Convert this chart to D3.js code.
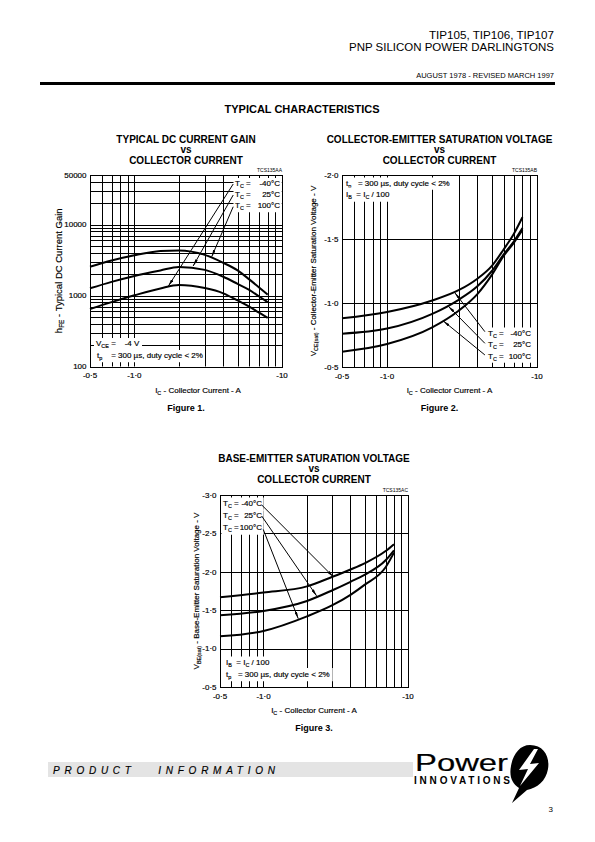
<!DOCTYPE html>
<html>
<head>
<meta charset="utf-8">
<script src="https://cdn.jsdelivr.net/npm/d3@7"></script>
<style>
  html,body{margin:0;padding:0;background:#fff;}
  svg{display:block;}
  text{font-family:"Liberation Sans",Arial,Helvetica,sans-serif;fill:#000;white-space:pre;}
  text.heavy{stroke:#000;stroke-width:0.17px;}
</style>
</head>
<body>
<svg id="page" width="595" height="842" viewBox="0 0 595 842"></svg>
<script>
// ================= DATA =================
// Collector current axis (A) shared by all three figures
const xTickValues = [-0.5, -1, -10];
const xTickLabels = ["-0·5", "-1·0", "-10"];
const xGridValues = [-0.6, -0.7, -0.8, -0.9, -1, -2, -3, -4, -5, -6, -7, -8, -9];
const tempLabels = ["-40°C", "25°C", "100°C"];

// Figure 1 : hFE vs IC
const fig1Current = [-0.5, -0.7, -1, -1.5, -2, -3, -4, -5, -6, -7, -8];
const fig1Hfe100 = [2550, 3110, 3690, 4240, 4330, 3740, 2890, 2260, 1690, 1300, 1030];
const fig1Hfe25  = [1265, 1560, 1890, 2260, 2530, 2300, 1840, 1460, 1200, 970, 805];
const fig1HfeM40 = [646, 808, 1007, 1260, 1405, 1274, 1075, 852, 698, 573, 485];
const fig1YTicks = [100, 1000, 10000, 50000];
const fig1YTickLabels = ["100", "1000", "10000", "50000"];
const fig1YGrid = [200,300,400,500,600,700,800,900,1000,2000,3000,4000,5000,6000,7000,8000,9000,10000,20000,30000,40000];
const fig1Arrows = [   // [label end point, arrow tip] for -40, 25, 100 °C
  [[-4.67, 37300], [-1.70, 1362]],
  [[-4.67, 26100], [-2.50, 2608]],
  [[-4.67, 17860], [-3.34, 3527]]
];

// Figure 2 : VCE(sat) vs IC
const fig2Current = [-0.5, -1, -2, -3, -4, -5, -6, -7, -8];
const fig2VceM40 = [-0.88, -0.93, -1.02, -1.10, -1.19, -1.29, -1.42, -1.54, -1.67];
const fig2Vce25  = [-0.76, -0.80, -0.915, -1.025, -1.13, -1.25, -1.38, -1.48, -1.585];
const fig2Vce100 = [-0.62, -0.68, -0.81, -0.94, -1.07, -1.22, -1.37, -1.47, -1.57];
const fig2YTicks = [-2.0, -1.5, -1.0, -0.5];
const fig2YTickLabels = ["-2·0", "-1·5", "-1·0", "-0·5"];
const fig2YGrid = [-1.5, -1.0];
const fig2Arrows = [
  [[-4.49, -0.776], [-2.83, -1.08]],
  [[-4.49, -0.685], [-2.56, -0.975]],
  [[-4.49, -0.594], [-2.37, -0.86]]
];

// Figure 3 : VBE(sat) vs IC
const fig3Current = [-0.5, -1, -2, -3, -4, -5, -7, -8];
const fig3VbeM40 = [-1.67, -1.73, -1.81, -1.935, -2.03, -2.11, -2.27, -2.36];
const fig3Vbe25  = [-1.435, -1.49, -1.62, -1.76, -1.87, -1.96, -2.15, -2.28];
const fig3Vbe100 = [-1.16, -1.23, -1.42, -1.565, -1.70, -1.83, -2.06, -2.25];
const fig3YTicks = [-3.0, -2.5, -2.0, -1.5, -1.0, -0.5];
const fig3YTickLabels = ["-3·0", "-2·5", "-2·0", "-1·5", "-1·0", "-0·5"];
const fig3YGrid = [-2.5, -2.0, -1.5, -1.0];
const fig3Arrows = [
  [[-0.972, -2.87], [-3.04, -1.935]],
  [[-0.972, -2.726], [-2.33, -1.687]],
  [[-0.996, -2.552], [-1.74, -1.39]]
];

// ================= DRAWING =================
const svg = d3.select("#page");
svg.append("rect").attr("width", 595).attr("height", 842).attr("fill", "#fff");

const defs = svg.append("defs");
defs.append("marker").attr("id", "ah")
  .attr("viewBox", "0 0 10 4").attr("refX", 10).attr("refY", 2)
  .attr("markerWidth", 7).attr("markerHeight", 2.8)
  .attr("markerUnits", "userSpaceOnUse").attr("orient", "auto")
  .append("path").attr("d", "M0,0L10,2L0,4Z").attr("fill", "#000");

// text with optional subscripts. parts: [string, isSub]
function richText(parent, x, y, parts, o = {}) {
  const size = o.size || 8;
  const t = parent.append("text").attr("x", x).attr("y", y)
    .attr("class", o.weight === "bold" ? null : "heavy")
    .attr("font-size", size)
    .attr("text-anchor", o.anchor || "start")
    .attr("font-weight", o.weight || "normal");
  if (o.transform) t.attr("transform", o.transform);
  let shifted = false;
  parts.forEach(p => {
    const [s, sub] = typeof p === "string" ? [p, false] : p;
    const ts = t.append("tspan").text(s);
    if (sub) {
      ts.attr("font-size", size * 0.68);
      if (!shifted) { ts.attr("dy", size * 0.28); shifted = true; }
    } else if (shifted) { ts.attr("dy", -size * 0.28); shifted = false; }
  });
  return t;
}
// white background behind one or more text nodes (union of their boxes)
function whiteBox(parent, sels, padX = 1, padY = 0.5) {
  const boxes = sels.map(s => s.node().getBBox());
  const x0 = d3.min(boxes, b => b.x), y0 = d3.min(boxes, b => b.y);
  const x1 = d3.max(boxes, b => b.x + b.width), y1 = d3.max(boxes, b => b.y + b.height);
  parent.insert("rect", () => sels[0].node())
    .attr("x", x0 - padX).attr("y", y0 - padY)
    .attr("width", x1 - x0 + 2 * padX).attr("height", y1 - y0 + 2 * padY)
    .attr("fill", "#fff");
}
const snap = v => Math.round(v) + 0.5;

function drawFigure(o) {
  const g = svg.append("g");
  const x = d3.scaleLog().domain([-0.5, -10]).range([o.left, o.right]);
  const y = o.y;
  const gridL = g.append("g");
  gridL.selectAll("line.v").data(xGridValues).join("line").attr("class", "v")
    .attr("x1", d => snap(x(d))).attr("x2", d => snap(x(d)))
    .attr("y1", o.top).attr("y2", o.bottom)
    .attr("stroke", "#000").attr("stroke-width", 1);
  gridL.selectAll("line.h").data(o.yGrid).join("line").attr("class", "h")
    .attr("x1", o.left).attr("x2", o.right)
    .attr("y1", d => snap(y(d))).attr("y2", d => snap(y(d)))
    .attr("stroke", "#000").attr("stroke-width", 1);

  const curveL = g.append("g");
  const line = d3.line().x(d => x(d[0])).y(d => y(d[1])).curve(d3.curveMonotoneX);
  o.series.forEach(vals => {
    curveL.append("path").datum(o.current.map((c, i) => [c, vals[i]]))
      .attr("d", line).attr("fill", "none").attr("stroke", "#000").attr("stroke-width", 2);
  });

  const labelL = g.append("g");
  const arrowL = g.append("g");
  o.arrows.forEach(([a, b]) => {
    arrowL.append("line")
      .attr("x1", x(a[0])).attr("y1", y(a[1])).attr("x2", x(b[0])).attr("y2", y(b[1]))
      .attr("stroke", "#000").attr("stroke-width", 1).attr("marker-end", "url(#ah)");
  });

  // frame
  g.append("rect").attr("x", snap(o.left)).attr("y", snap(o.top))
    .attr("width", Math.round(o.right) - Math.round(o.left))
    .attr("height", Math.round(o.bottom) - Math.round(o.top))
    .attr("fill", "none").attr("stroke", "#000").attr("stroke-width", 1);

  // tick labels
  const axL = g.append("g");
  axL.selectAll("text.xt").data(xTickValues).join("text").attr("class", "xt heavy")
    .attr("x", d => x(d)).attr("y", o.bottom + 11.5).attr("text-anchor", "middle")
    .attr("font-size", 8).text((d, i) => xTickLabels[i]);
  axL.selectAll("text.yt").data(o.yTicks).join("text").attr("class", "yt heavy")
    .attr("x", o.left - 3.5).attr("y", d => y(d) + 2.8).attr("text-anchor", "end")
    .attr("font-size", 8).text((d, i) => o.yTickLabels[i]);
  axL.append("text").attr("x", o.right).attr("y", o.top - 3.5).attr("text-anchor", "end")
    .attr("font-size", 5).text(o.code);

  const cx = (o.left + o.right) / 2;
  richText(axL, cx + o.xTitleShift, o.bottom + 26, [["I"], ["C", true], [" - Collector Current - A"]], { anchor: "middle", size: 8 });
  axL.append("text").attr("x", cx).attr("y", o.bottom + 44).attr("text-anchor", "middle")
    .attr("font-size", 9).attr("font-weight", "bold").text(o.figLabel);
  richText(axL, 0, 0, o.yTitle, { anchor: "middle", size: o.yTitleSize,
    transform: `translate(${o.yTitleX},${(o.top + o.bottom) / 2}) rotate(-90)` });

  // titles
  o.title.forEach((s, i) => {
    axL.append("text").attr("x", cx).attr("y", o.titleY + [0, 9.5, 21][i])
      .attr("text-anchor", "middle").attr("font-size", 10).attr("font-weight", "bold").text(s);
  });
  return { x, y, labelL };
}

// temperature legend rows ("T_C =" + right-aligned value) on a white box
function tempLegend(layer, xStart, xEnd, y0, step, pad) {
  tempLabels.forEach((lab, i) => {
    const yy = y0 + i * step;
    const t1 = richText(layer, xStart, yy, [["T"], ["C", true], [" ="]], { size: 8 });
    const t2 = layer.append("text").attr("class", "heavy").attr("x", xEnd).attr("y", yy)
      .attr("text-anchor", "end").attr("font-size", 8).text(lab);
    whiteBox(layer, [t1, t2], pad[0], pad[1]);
  });
}

// -------- header --------
svg.append("text").attr("x", 554).attr("y", 38.5).attr("text-anchor", "end").attr("font-size", 11.5)
  .attr("textLength", 125).attr("lengthAdjust", "spacingAndGlyphs")
  .text("TIP105, TIP106, TIP107");
svg.append("text").attr("x", 554).attr("y", 51).attr("text-anchor", "end").attr("font-size", 11.5)
  .attr("textLength", 205).attr("lengthAdjust", "spacingAndGlyphs")
  .text("PNP SILICON POWER DARLINGTONS");
svg.append("text").attr("x", 554).attr("y", 78).attr("text-anchor", "end").attr("font-size", 7.5)
  .text("AUGUST 1978 - REVISED MARCH 1997");
svg.append("rect").attr("x", 40).attr("y", 82).attr("width", 515).attr("height", 3).attr("fill", "#000");
svg.append("text").attr("x", 302).attr("y", 113).attr("text-anchor", "middle").attr("font-size", 11)
  .attr("font-weight", "bold").text("TYPICAL CHARACTERISTICS");

// -------- Figure 1 --------
const f1 = drawFigure({
  left: 90, right: 282, top: 175, bottom: 366.5,
  y: d3.scaleLog().domain([100, 50000]).range([366.5, 175]),
  yGrid: fig1YGrid, yTicks: fig1YTicks, yTickLabels: fig1YTickLabels,
  current: fig1Current, series: [fig1Hfe100, fig1Hfe25, fig1HfeM40],
  arrows: fig1Arrows, code: "TCS135AA", figLabel: "Figure 1.",
  title: ["TYPICAL DC CURRENT GAIN", "vs", "COLLECTOR CURRENT"], titleY: 143,
  yTitle: [["h"], ["FE", true], [" - Typical DC Current Gain"]], yTitleX: 61.5, yTitleSize: 9.5,
  xTitleShift: 12
});
tempLegend(f1.labelL, 235, 280, 186, 11, [1.5, 1]);
{
  const t1 = richText(f1.labelL, 96, 346, [["V"], ["CE", true], [" =    -4 V"]], { size: 8 });
  whiteBox(f1.labelL, [t1], 2, 1);
  const t2 = richText(f1.labelL, 97, 358, [["t"], ["p", true], ["    = 300 µs, duty cycle < 2%"]], { size: 8 });
  whiteBox(f1.labelL, [t2], 2, 1);
}

// -------- Figure 2 --------
const f2 = drawFigure({
  left: 342, right: 537, top: 175, bottom: 367,
  y: d3.scaleLinear().domain([-0.5, -2.0]).range([367, 175]),
  yGrid: fig2YGrid, yTicks: fig2YTicks, yTickLabels: fig2YTickLabels,
  current: fig2Current, series: [fig2VceM40, fig2Vce25, fig2Vce100],
  arrows: fig2Arrows, code: "TCS135AB", figLabel: "Figure 2.",
  title: ["COLLECTOR-EMITTER SATURATION VOLTAGE", "vs", "COLLECTOR CURRENT"], titleY: 143,
  yTitle: [["V"], ["CE(sat)", true], [" - Collector-Emitter Saturation Voltage - V"]], yTitleX: 316, yTitleSize: 8,
  xTitleShift: 10
});
{
  const t1 = richText(f2.labelL, 346, 185.5, [["t"], ["p", true], ["   = 300 µs, duty cycle < 2%"]], { size: 8 });
  whiteBox(f2.labelL, [t1], 3, 1);
  const t2 = richText(f2.labelL, 346, 196.5, [["I"], ["B", true], ["  = I"], ["C", true], [" / 100"]], { size: 8 });
  whiteBox(f2.labelL, [t2], 3, 2);
}
tempLegend(f2.labelL, 488, 531, 335.5, 11.5, [1.5, 1]);

// -------- Figure 3 --------
const f3 = drawFigure({
  left: 220, right: 408, top: 495, bottom: 687,
  y: d3.scaleLinear().domain([-0.5, -3.0]).range([687, 495]),
  yGrid: fig3YGrid, yTicks: fig3YTicks, yTickLabels: fig3YTickLabels,
  current: fig3Current, series: [fig3VbeM40, fig3Vbe25, fig3Vbe100],
  arrows: fig3Arrows, code: "TCS135AC", figLabel: "Figure 3.",
  title: ["BASE-EMITTER SATURATION VOLTAGE", "vs", "COLLECTOR CURRENT"], titleY: 462,
  yTitle: [["V"], ["BE(sat)", true], [" - Base-Emitter Saturation Voltage - V"]], yTitleX: 199, yTitleSize: 8,
  xTitleShift: 0
});
tempLegend(f3.labelL, 223, 262, 506, 12, [1.5, 1.5]);
{
  const t1 = richText(f3.labelL, 226, 665, [["I"], ["B", true], ["  = I"], ["C", true], [" / 100"]], { size: 8 });
  whiteBox(f3.labelL, [t1], 3, 1.5);
  const t2 = richText(f3.labelL, 226, 676.5, [["t"], ["p", true], ["   = 300 µs, duty cycle < 2%"]], { size: 8 });
  whiteBox(f3.labelL, [t2], 3, 1.5);
}

// -------- footer --------
svg.append("rect").attr("x", 48).attr("y", 762).attr("width", 365).attr("height", 15).attr("fill", "#e4e4e4");
svg.append("text").attr("class", "heavy").attr("x", 53).attr("y", 773.5).attr("font-size", 10).attr("font-style", "italic")
  .attr("textLength", 222).attr("lengthAdjust", "spacing").text("PRODUCT   INFORMATION");
svg.append("text").attr("class", "heavy").attr("x", 415).attr("y", 771).attr("font-size", 23)
  .attr("textLength", 93).attr("lengthAdjust", "spacingAndGlyphs").text("Power");
svg.append("text").attr("x", 414).attr("y", 783.5).attr("font-size", 10).attr("font-weight", "bold")
  .attr("textLength", 96).attr("lengthAdjust", "spacing").text("INNOVATIONS");
const logo = svg.append("g");
logo.append("path").attr("fill", "#000")
  .attr("d", "M530,745 C544,745 550,757 548,769 C546,781 537,788 527,790 L512,803 L519,788 C512,784 509,776 511,766 C513,754 520,745 530,745 Z");
logo.append("path").attr("fill", "#fff")
  .attr("d", "M534,749 L519,770 L528,769 L520,786 L539,763 L530,764 L538,749 Z");
svg.append("text").attr("x", 553).attr("y", 812).attr("text-anchor", "end").attr("font-size", 8).text("3");
</script>
</body>
</html>
